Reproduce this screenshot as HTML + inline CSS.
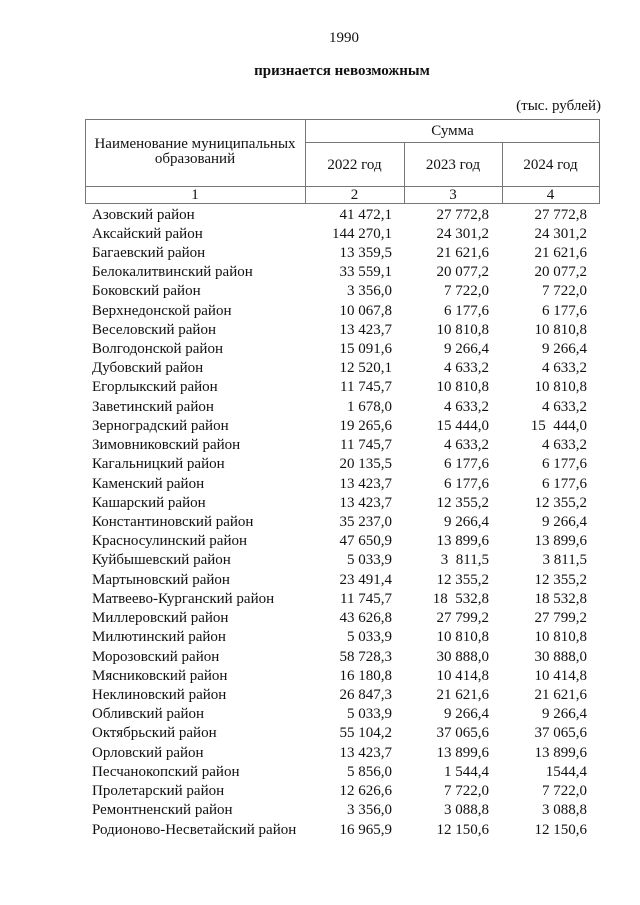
<!DOCTYPE html>
<html><head><meta charset="utf-8">
<style>
html,body{margin:0;padding:0;background:#fff;}
body{width:640px;height:905px;position:relative;overflow:hidden;font-family:"Liberation Serif","Noto Serif CJK SC",serif;font-size:15px;font-weight:400;color:#111;}
.t{position:absolute;white-space:pre;line-height:20px;height:20px;font-weight:400;}
.c{text-align:center;}
.r{text-align:right;}
.h{position:absolute;height:1px;background:#777;}
.v{position:absolute;width:1px;background:#777;}
.k1{left:92px;}
.k2{left:290px;width:102px;text-align:right;}
.k3{left:400px;width:89px;text-align:right;}
.k4{left:500px;width:87px;text-align:right;}
</style></head><body>
<div class="t c" style="left:284px;width:120px;top:28px;">1990</div>
<div class="t c" style="left:192px;width:300px;top:61px;font-weight:700;">признается невозможным</div>
<div class="t r" style="left:450px;width:151px;top:96px;">(тыс. рублей)</div>

<div class="h" style="left:85px;width:515px;top:119px;"></div>
<div class="h" style="left:305px;width:295px;top:142px;"></div>
<div class="h" style="left:85px;width:515px;top:186px;"></div>
<div class="h" style="left:85px;width:515px;top:203px;"></div>
<div class="v" style="left:85px;top:119px;height:85px;"></div>
<div class="v" style="left:305px;top:119px;height:85px;"></div>
<div class="v" style="left:599px;top:119px;height:85px;"></div>
<div class="v" style="left:404px;top:142px;height:62px;"></div>
<div class="v" style="left:502px;top:142px;height:62px;"></div>

<div class="t c" style="left:305px;width:295px;top:121px;">Сумма</div>
<div class="t c" style="left:85px;width:220px;top:134px;">Наименование муниципальных</div>
<div class="t c" style="left:85px;width:220px;top:149px;">образований</div>
<div class="t c" style="left:305px;width:99px;top:155px;">2022 год</div>
<div class="t c" style="left:404px;width:98px;top:155px;">2023 год</div>
<div class="t c" style="left:502px;width:97px;top:155px;">2024 год</div>
<div class="t c" style="left:85px;width:220px;top:185px;">1</div>
<div class="t c" style="left:305px;width:99px;top:185px;">2</div>
<div class="t c" style="left:404px;width:98px;top:185px;">3</div>
<div class="t c" style="left:502px;width:97px;top:185px;">4</div>

<div class="t k1" style="top:205px">Азовский район</div><div class="t k2" style="top:205px">41 472,1</div><div class="t k3" style="top:205px">27 772,8</div><div class="t k4" style="top:205px">27 772,8</div>
<div class="t k1" style="top:224px">Аксайский район</div><div class="t k2" style="top:224px">144 270,1</div><div class="t k3" style="top:224px">24 301,2</div><div class="t k4" style="top:224px">24 301,2</div>
<div class="t k1" style="top:243px">Багаевский район</div><div class="t k2" style="top:243px">13 359,5</div><div class="t k3" style="top:243px">21 621,6</div><div class="t k4" style="top:243px">21 621,6</div>
<div class="t k1" style="top:262px">Белокалитвинский район</div><div class="t k2" style="top:262px">33 559,1</div><div class="t k3" style="top:262px">20 077,2</div><div class="t k4" style="top:262px">20 077,2</div>
<div class="t k1" style="top:281px">Боковский район</div><div class="t k2" style="top:281px">3 356,0</div><div class="t k3" style="top:281px">7 722,0</div><div class="t k4" style="top:281px">7 722,0</div>
<div class="t k1" style="top:301px">Верхнедонской район</div><div class="t k2" style="top:301px">10 067,8</div><div class="t k3" style="top:301px">6 177,6</div><div class="t k4" style="top:301px">6 177,6</div>
<div class="t k1" style="top:320px">Веселовский район</div><div class="t k2" style="top:320px">13 423,7</div><div class="t k3" style="top:320px">10 810,8</div><div class="t k4" style="top:320px">10 810,8</div>
<div class="t k1" style="top:339px">Волгодонской район</div><div class="t k2" style="top:339px">15 091,6</div><div class="t k3" style="top:339px">9 266,4</div><div class="t k4" style="top:339px">9 266,4</div>
<div class="t k1" style="top:358px">Дубовский район</div><div class="t k2" style="top:358px">12 520,1</div><div class="t k3" style="top:358px">4 633,2</div><div class="t k4" style="top:358px">4 633,2</div>
<div class="t k1" style="top:377px">Егорлыкский район</div><div class="t k2" style="top:377px">11 745,7</div><div class="t k3" style="top:377px">10 810,8</div><div class="t k4" style="top:377px">10 810,8</div>
<div class="t k1" style="top:397px">Заветинский район</div><div class="t k2" style="top:397px">1 678,0</div><div class="t k3" style="top:397px">4 633,2</div><div class="t k4" style="top:397px">4 633,2</div>
<div class="t k1" style="top:416px">Зерноградский район</div><div class="t k2" style="top:416px">19 265,6</div><div class="t k3" style="top:416px">15 444,0</div><div class="t k4" style="top:416px">15  444,0</div>
<div class="t k1" style="top:435px">Зимовниковский район</div><div class="t k2" style="top:435px">11 745,7</div><div class="t k3" style="top:435px">4 633,2</div><div class="t k4" style="top:435px">4 633,2</div>
<div class="t k1" style="top:454px">Кагальницкий район</div><div class="t k2" style="top:454px">20 135,5</div><div class="t k3" style="top:454px">6 177,6</div><div class="t k4" style="top:454px">6 177,6</div>
<div class="t k1" style="top:474px">Каменский район</div><div class="t k2" style="top:474px">13 423,7</div><div class="t k3" style="top:474px">6 177,6</div><div class="t k4" style="top:474px">6 177,6</div>
<div class="t k1" style="top:493px">Кашарский район</div><div class="t k2" style="top:493px">13 423,7</div><div class="t k3" style="top:493px">12 355,2</div><div class="t k4" style="top:493px">12 355,2</div>
<div class="t k1" style="top:512px">Константиновский район</div><div class="t k2" style="top:512px">35 237,0</div><div class="t k3" style="top:512px">9 266,4</div><div class="t k4" style="top:512px">9 266,4</div>
<div class="t k1" style="top:531px">Красносулинский район</div><div class="t k2" style="top:531px">47 650,9</div><div class="t k3" style="top:531px">13 899,6</div><div class="t k4" style="top:531px">13 899,6</div>
<div class="t k1" style="top:550px">Куйбышевский район</div><div class="t k2" style="top:550px">5 033,9</div><div class="t k3" style="top:550px">3  811,5</div><div class="t k4" style="top:550px">3 811,5</div>
<div class="t k1" style="top:570px">Мартыновский район</div><div class="t k2" style="top:570px">23 491,4</div><div class="t k3" style="top:570px">12 355,2</div><div class="t k4" style="top:570px">12 355,2</div>
<div class="t k1" style="top:589px">Матвеево-Курганский район</div><div class="t k2" style="top:589px">11 745,7</div><div class="t k3" style="top:589px">18  532,8</div><div class="t k4" style="top:589px">18 532,8</div>
<div class="t k1" style="top:608px">Миллеровский район</div><div class="t k2" style="top:608px">43 626,8</div><div class="t k3" style="top:608px">27 799,2</div><div class="t k4" style="top:608px">27 799,2</div>
<div class="t k1" style="top:627px">Милютинский район</div><div class="t k2" style="top:627px">5 033,9</div><div class="t k3" style="top:627px">10 810,8</div><div class="t k4" style="top:627px">10 810,8</div>
<div class="t k1" style="top:647px">Морозовский район</div><div class="t k2" style="top:647px">58 728,3</div><div class="t k3" style="top:647px">30 888,0</div><div class="t k4" style="top:647px">30 888,0</div>
<div class="t k1" style="top:666px">Мясниковский район</div><div class="t k2" style="top:666px">16 180,8</div><div class="t k3" style="top:666px">10 414,8</div><div class="t k4" style="top:666px">10 414,8</div>
<div class="t k1" style="top:685px">Неклиновский район</div><div class="t k2" style="top:685px">26 847,3</div><div class="t k3" style="top:685px">21 621,6</div><div class="t k4" style="top:685px">21 621,6</div>
<div class="t k1" style="top:704px">Обливский район</div><div class="t k2" style="top:704px">5 033,9</div><div class="t k3" style="top:704px">9 266,4</div><div class="t k4" style="top:704px">9 266,4</div>
<div class="t k1" style="top:723px">Октябрьский район</div><div class="t k2" style="top:723px">55 104,2</div><div class="t k3" style="top:723px">37 065,6</div><div class="t k4" style="top:723px">37 065,6</div>
<div class="t k1" style="top:743px">Орловский район</div><div class="t k2" style="top:743px">13 423,7</div><div class="t k3" style="top:743px">13 899,6</div><div class="t k4" style="top:743px">13 899,6</div>
<div class="t k1" style="top:762px">Песчанокопский район</div><div class="t k2" style="top:762px">5 856,0</div><div class="t k3" style="top:762px">1 544,4</div><div class="t k4" style="top:762px">1544,4</div>
<div class="t k1" style="top:781px">Пролетарский район</div><div class="t k2" style="top:781px">12 626,6</div><div class="t k3" style="top:781px">7 722,0</div><div class="t k4" style="top:781px">7 722,0</div>
<div class="t k1" style="top:800px">Ремонтненский район</div><div class="t k2" style="top:800px">3 356,0</div><div class="t k3" style="top:800px">3 088,8</div><div class="t k4" style="top:800px">3 088,8</div>
<div class="t k1" style="top:820px">Родионово-Несветайский район</div><div class="t k2" style="top:820px">16 965,9</div><div class="t k3" style="top:820px">12 150,6</div><div class="t k4" style="top:820px">12 150,6</div>
</body></html>
